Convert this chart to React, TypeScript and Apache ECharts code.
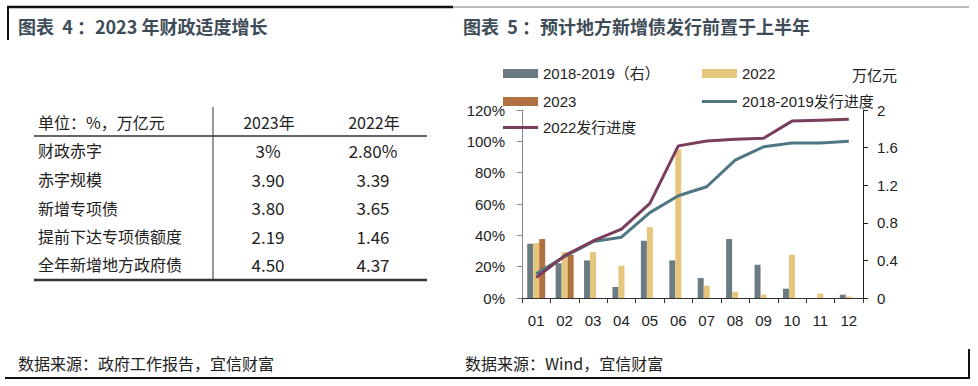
import React, { useEffect, useRef } from "react";
import * as echarts from "echarts";

const categories = ["01", "02", "03", "04", "05", "06", "07", "08", "09", "10", "11", "12"];
const bars1819 = [0.577, 0.37, 0.4, 0.117, 0.609, 0.4, 0.212, 0.627, 0.354, 0.099, null, 0.035];
const bars2022 = [0.584, 0.489, 0.489, 0.343, 0.754, 1.58, 0.13, 0.067, 0.035, 0.46, 0.046, 0.015];
const bars2023 = [0.627, 0.46, null, null, null, null, null, null, null, null, null, null];
const progress1819 = [15.5, 26.5, 36, 38.8, 54.5, 65.3, 71, 88, 96.5, 98.9, 98.9, 100.1];
const progress2022 = [13.1, 27, 36.4, 43.9, 60.4, 97.1, 100.2, 101.4, 102, 112.9, 113.5, 114.1];

const tableHeader = ["单位：%，万亿元", "2023年", "2022年"];
const tableRows = ["财政赤字", "赤字规模", "新增专项债", "提前下达专项债额度", "全年新增地方政府债"];
const table2023 = ["3%", "3.90", "3.80", "2.19", "4.50"];
const table2022 = ["2.80%", "3.39", "3.65", "1.46", "4.37"];

const C_GRAY = "#6B7B84";
const C_YEL = "#E6C57C";
const C_BROWN = "#B0703F";
const C_PURPLE = "#7A3E5C";
const C_BLUE = "#4F7683";
const FONT = "'Liberation Sans', 'Noto Sans CJK SC', sans-serif";
const CJK = "'Noto Sans CJK SC', sans-serif";

export default function App() {
  const ref = useRef<HTMLDivElement>(null);
  useEffect(() => {
    document.body.style.margin = "0";
    const chart = echarts.init(ref.current!, null, { renderer: "svg" });
    const rowY = [150, 179, 207.5, 236, 264];
    const tableText: any[] = [];
    tableText.push({ type: "text", x: 38, y: 122, style: { text: tableHeader[0], font: `16px ${CJK}`, fill: "#222", verticalAlign: "middle" } });
    tableText.push({ type: "text", x: 269, y: 122, style: { text: tableHeader[1], font: `16px ${CJK}`, fill: "#222", align: "center", verticalAlign: "middle" } });
    tableText.push({ type: "text", x: 374, y: 122, style: { text: tableHeader[2], font: `16px ${CJK}`, fill: "#222", align: "center", verticalAlign: "middle" } });
    tableRows.forEach((r, i) => {
      tableText.push({ type: "text", x: 38, y: rowY[i], style: { text: r, font: `16px ${CJK}`, fill: "#222", verticalAlign: "middle" } });
      tableText.push({ type: "text", x: 268, y: rowY[i], style: { text: table2023[i], font: `17px ${CJK}`, fill: "#222", align: "center", verticalAlign: "middle" } });
      tableText.push({ type: "text", x: 373, y: rowY[i], style: { text: table2022[i], font: `17px ${CJK}`, fill: "#222", align: "center", verticalAlign: "middle" } });
    });

    const legendBase = {
      orient: "horizontal",
      padding: 0,
      itemWidth: 35,
      itemGap: 5,
      textStyle: { fontSize: 15, color: "#222", fontFamily: FONT },
    };

    chart.setOption({
      animation: false,
      legend: [
        { ...legendBase, left: 503, top: 66, itemHeight: 9, data: [{ name: "2018-2019（右）", icon: "rect" }] },
        { ...legendBase, left: 702, top: 66, itemHeight: 9, data: [{ name: "2022", icon: "rect" }] },
        { ...legendBase, left: 503, top: 94, itemHeight: 9, data: [{ name: "2023", icon: "rect" }] },
        { ...legendBase, left: 702, top: 94, itemHeight: 3, data: [{ name: "2018-2019发行进度", icon: "rect" }] },
        { ...legendBase, left: 503, top: 120, itemHeight: 3, data: [{ name: "2022发行进度", icon: "rect" }] },
      ],
      grid: { left: 522, right: 115, top: 110, bottom: 88 },
      xAxis: {
        type: "category",
        data: categories,
        axisLine: { lineStyle: { color: "#333", width: 1 } },
        axisTick: { show: true, length: 5, lineStyle: { color: "#333" } },
        axisLabel: { fontSize: 15, color: "#222", fontFamily: FONT, margin: 15 },
      },
      yAxis: [
        {
          type: "value",
          min: 0,
          max: 120,
          interval: 20,
          axisLine: { show: true, lineStyle: { color: "#888" } },
          axisTick: { show: true, length: 5, lineStyle: { color: "#888" } },
          splitLine: { show: false },
          axisLabel: { fontSize: 15, color: "#222", fontFamily: FONT, margin: 17, formatter: "{value}%" },
        },
        {
          type: "value",
          min: 0,
          max: 2,
          interval: 0.4,
          position: "right",
          axisLine: { show: true, lineStyle: { color: "#222" } },
          axisTick: { show: true, length: 5, lineStyle: { color: "#222" } },
          splitLine: { show: false },
          axisLabel: {
            fontSize: 15,
            color: "#222",
            fontFamily: FONT,
            margin: 14,
            formatter: (v: number) => (v === 0 || v === 2 ? String(v) : v.toFixed(1)),
          },
        },
      ],
      series: [
        { name: "2018-2019（右）", type: "bar", yAxisIndex: 1, data: bars1819, barWidth: 6, barGap: "0%", itemStyle: { color: C_GRAY } },
        { name: "2022", type: "bar", yAxisIndex: 1, data: bars2022, barWidth: 6, barGap: "0%", itemStyle: { color: C_YEL } },
        { name: "2023", type: "bar", yAxisIndex: 1, data: bars2023, barWidth: 6, barGap: "0%", itemStyle: { color: C_BROWN } },
        { name: "2018-2019发行进度", type: "line", yAxisIndex: 0, data: progress1819, symbol: "none", lineStyle: { color: C_BLUE, width: 3 }, itemStyle: { color: C_BLUE }, z: 5 },
        { name: "2022发行进度", type: "line", yAxisIndex: 0, data: progress2022, symbol: "none", lineStyle: { color: C_PURPLE, width: 3 }, itemStyle: { color: C_PURPLE }, z: 6 },
      ],
      graphic: [
        { type: "line", shape: { x1: 7, y1: 7, x2: 453, y2: 7 }, style: { stroke: "#111", lineWidth: 2.5 } },
        { type: "line", shape: { x1: 453, y1: 7, x2: 969, y2: 7 }, style: { stroke: "#777", lineWidth: 1.2 } },
        { type: "line", shape: { x1: 8, y1: 6, x2: 8, y2: 40 }, style: { stroke: "#111", lineWidth: 2 } },
        { type: "line", shape: { x1: 5, y1: 378, x2: 970, y2: 378 }, style: { stroke: "#111", lineWidth: 2 } },
        { type: "line", shape: { x1: 969, y1: 349, x2: 969, y2: 379 }, style: { stroke: "#111", lineWidth: 2 } },
        { type: "text", x: 18, y: 26, style: { text: "图表  4 ：2023 年财政适度增长", font: `bold 18px ${CJK}`, fill: "#3E4C57", verticalAlign: "middle" } },
        { type: "text", x: 463, y: 26, style: { text: "图表  5 ：预计地方新增债发行前置于上半年", font: `bold 18px ${CJK}`, fill: "#3E4C57", verticalAlign: "middle" } },
        { type: "text", x: 852, y: 74, style: { text: "万亿元", font: `15px ${CJK}`, fill: "#222", verticalAlign: "middle" } },
        { type: "text", x: 18, y: 363, style: { text: "数据来源：政府工作报告，宜信财富", font: `16px ${CJK}`, fill: "#222", verticalAlign: "middle" } },
        { type: "text", x: 465, y: 363, style: { text: "数据来源：Wind，宜信财富", font: `16px ${CJK}`, fill: "#222", verticalAlign: "middle" } },
        { type: "line", shape: { x1: 34, y1: 136, x2: 427, y2: 136 }, style: { stroke: "#333", lineWidth: 1.5 } },
        { type: "line", shape: { x1: 213, y1: 107, x2: 213, y2: 280 }, style: { stroke: "#333", lineWidth: 1 } },
        { type: "line", shape: { x1: 34, y1: 280, x2: 427, y2: 280 }, style: { stroke: "#333", lineWidth: 2.5 } },
        ...tableText,
      ],
    });
    return () => chart.dispose();
  }, []);
  return <div ref={ref} style={{ position: "absolute", left: 0, top: 0, width: 978, height: 386 }} />;
}
